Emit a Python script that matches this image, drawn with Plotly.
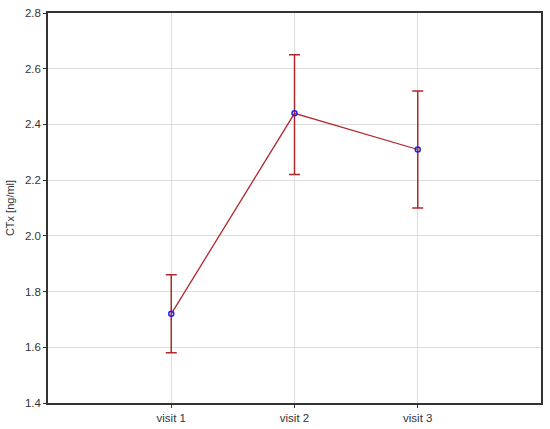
import plotly.graph_objects as go

categories = ["visit 1", "visit 2", "visit 3"]
means = [1.72, 2.44, 2.31]
upper = [1.86, 2.65, 2.52]
lower = [1.58, 2.22, 2.10]
positions = [1, 2, 3]

err_plus = [u - m for u, m in zip(upper, means)]
err_minus = [m - l for m, l in zip(means, lower)]

red = "#b0282b"
fig = go.Figure()
fig.add_trace(go.Scatter(
    x=positions, y=means, mode="lines+markers",
    line=dict(color=red, width=1.3),
    marker=dict(symbol="circle-open", size=5, color="#2222ee", line=dict(width=1.5, color="#2222ee")),
    error_y=dict(type="data", symmetric=False, array=err_plus, arrayminus=err_minus,
                 color=red, thickness=1.5, width=5.5),
    showlegend=False,
))

font = dict(family="Liberation Sans, Arial, sans-serif", size=11.5, color="#333333")
fig.update_layout(
    width=550, height=429,
    margin=dict(l=48, r=9, t=13, b=26),
    paper_bgcolor="white", plot_bgcolor="white",
    font=font,
    xaxis=dict(range=[0, 4], tickvals=positions, ticktext=categories, automargin=False,
               showgrid=True, gridcolor="#dddddd", gridwidth=1,
               showline=True, linecolor="#333333", linewidth=1.5, mirror=True,
               ticks="outside", ticklen=3, tickcolor="#333333", zeroline=False),
    yaxis=dict(range=[1.4, 2.8], dtick=0.2, tickformat=".1f", automargin=False,
               title=dict(text="CTx [ng/ml]", standoff=8, font=dict(size=11)),
               showgrid=True, gridcolor="#dddddd", gridwidth=1,
               showline=True, linecolor="#333333", linewidth=1.5, mirror=True,
               ticks="outside", ticklen=3, tickcolor="#333333", zeroline=False),
)
fig.write_html("out.html", config={"displayModeBar": False},
               post_script="document.body.style.margin='0';")
